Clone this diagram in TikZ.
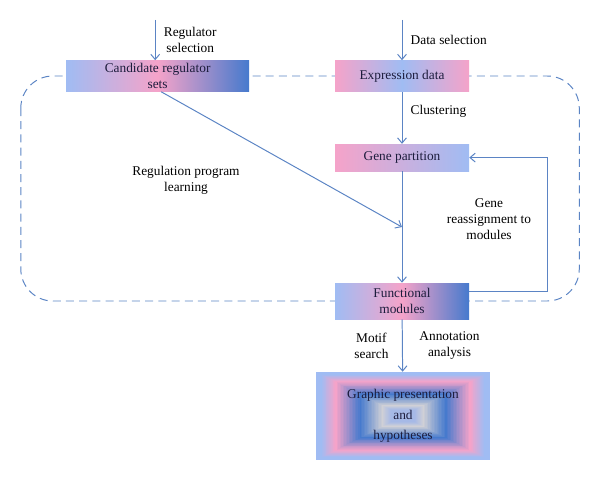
\documentclass[tikz,border=0pt]{standalone}
\usepackage{fontspec}
\setmainfont{Liberation Serif}
\usetikzlibrary{positioning,calc,backgrounds,arrows.meta}

\definecolor{lineblue}{RGB}{91,132,196}
\definecolor{skyblue}{RGB}{160,188,243}
\definecolor{rosepink}{RGB}{245,163,201}
\definecolor{deepblue}{RGB}{70,122,205}
\definecolor{palegrey}{RGB}{208,208,214}
\definecolor{coreblue}{RGB}{166,185,230}
\definecolor{navytext}{RGB}{28,28,60}

\begin{document}
\begin{tikzpicture}[node distance=2cm, auto, font=\fontsize{9.5}{11.5}\selectfont]
    \tikzstyle{box}=[rectangle, text=navytext, align=center, inner sep=1pt]
    \tikzstyle{regbox}=[box, minimum width=4.575cm, minimum height=0.775cm, left color=skyblue, right color=deepblue, middle color=rosepink]
    \tikzstyle{exprbox}=[box, minimum width=3.35cm, minimum height=0.775cm, left color=rosepink, right color=rosepink, middle color=skyblue]
    \tikzstyle{partbox}=[box, minimum width=3.35cm, minimum height=0.675cm, left color=rosepink, right color=skyblue]
    \tikzstyle{modbox}=[box, minimum width=3.35cm, minimum height=0.9cm, left color=skyblue, right color=deepblue, middle color=rosepink]
    \tikzstyle{outbox}=[box, minimum width=4.35cm, minimum height=2.2cm, path picture={
        \foreach \ca/\cb/\fa/\fb in {skyblue/skyblue/0/0.06, skyblue/rosepink/0.06/0.22, rosepink/deepblue/0.22/0.5, deepblue/palegrey/0.5/0.76, palegrey/coreblue/0.76/0.86}
        \foreach \k in {0,...,15} {
            \pgfmathsetmacro\g{1-(\fa+(\fb-\fa)*\k/16)}
            \pgfmathtruncatemacro\m{100-100*\k/16}
            \fill[\ca!\m!\cb] ($(path picture bounding box.center)!\g!(path picture bounding box.south west)$) rectangle ($(path picture bounding box.center)!\g!(path picture bounding box.north east)$);
        }
        \fill[coreblue] ($(path picture bounding box.center)!0.14!(path picture bounding box.south west)$) rectangle ($(path picture bounding box.center)!0.14!(path picture bounding box.north east)$);
    }]
    \tikzstyle{lbl}=[align=center, text=black, inner sep=1pt]
    \tikzstyle{arrow}=[-{Straight Barb[length=1.3mm,width=2.2mm]}, draw=lineblue, line width=0.7pt]
    \tikzstyle{frame}=[draw=lineblue, line width=0.7pt, dash pattern=on 2mm off 1.3mm, rounded corners=0.8cm]

    \useasboundingbox (0,0) rectangle (15,-12.025);

    % Boxes
    \node[regbox] (cand) at (3.94,-1.9) {Candidate regulator\\sets};
    \node[exprbox] (expr) [right of=cand, xshift=4.11cm] {Expression data};
    \node[partbox] (genep) [below of=expr, yshift=-0.04cm] {Gene partition};
    \node[modbox] (func) [below of=genep, yshift=-1.585cm] {Functional\\modules};
    \node[outbox] (graph) [below of=func, yshift=-0.875cm, xshift=0.025cm] {Graphic presentation\\[3pt]and\\[3pt]hypotheses};

    % Free ends
    \coordinate (regin) at ([xshift=-0.06cm, yshift=1.01cm]cand.north);
    \coordinate (datain) at ([yshift=1.01cm]expr.north);
    \coordinate (merge) at ($(genep.south)!0.5!(func.north)$);

    % Free labels
    \node[lbl] (learnlbl) [below of=cand, yshift=-0.6cm, xshift=0.71cm] {Regulation program\\learning};
    \node[lbl] (reasslbl) [below of=genep, yshift=0.46cm, xshift=2.175cm] {Gene\\reassignment to\\modules};

    % Dashed frame
    \begin{scope}[on background layer]
        \draw[frame] ([xshift=-11.25mm]cand.west) rectangle ([xshift=27.5mm]func.east);
    \end{scope}

    % Arrows
    \draw[arrow] (regin) -- node[lbl, right=1.7mm, midway] {Regulator\\selection} (regin |- cand.north);
    \draw[arrow] (datain) -- node[lbl, right=1.7mm, midway] {Data selection} (expr);
    \draw[arrow] (expr) -- node[lbl, right=1.7mm, pos=0.38] {Clustering} (genep);
    \draw[arrow] (genep) -- (func);
    \draw[arrow] ([xshift=0.09cm]cand.south) -- (merge);
    \draw[arrow] ([yshift=2.5mm]func.east) -- ++(1.95,0) |- (genep.east);
    \draw[arrow] (func) -- node[lbl, left=3mm, midway] {Motif\\search} node[lbl, right=3.8mm, midway] {Annotation\\analysis} (graph);
\end{tikzpicture}
\end{document}
